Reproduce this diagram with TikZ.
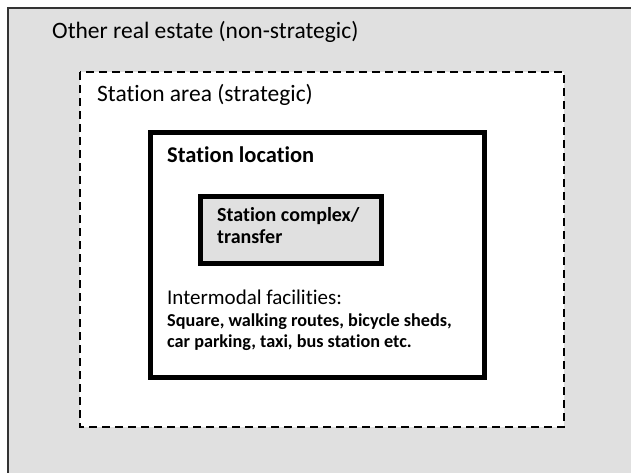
\documentclass[tikz,border=0pt]{standalone}
\usepackage{fontspec}
\setmainfont{Carlito}[Ligatures={NoCommon}]

\begin{document}
\begin{tikzpicture}[x=1pt, y=-1pt, label/.style={anchor=base west, inner sep=0pt, align=left}, zone/.style={line width=5pt}]
\useasboundingbox (0,0) rectangle (631,473);
% outer area, cut off at the right and bottom
\fill[white] (0,0) rectangle (631,473);
\draw[fill=black!12, draw=black!80, line width=1.5pt] (8,8) rectangle (640,490);
\node[label, font=\fontsize{23.5}{28}\selectfont] (other) at (52,39) {Other real estate (non-strategic)};
% strategic area
\draw[fill=white, line width=2pt, dash pattern=on 8pt off 5pt] (80,72) rectangle (564,427);
\node[label, font=\fontsize{23.5}{28}\selectfont] (area) at (97,102) {Station area (strategic)};
% station location
\draw[zone, fill=white] (150,133) rectangle (484,377);
\node[label, font=\fontsize{22.5}{27}\selectfont\bfseries] (location) at (167,163) {Station location};
\draw[zone, fill=black!12] (200,196) rectangle (381,263);
% multi-line labels sit on the baseline of their last line
\node[label, font=\fontsize{20}{22}\selectfont\bfseries] (complex) at (217,243) {Station complex/\\transfer};
\node[label, font=\fontsize{21}{25}\selectfont] (intermodal) at (167,304) {Intermodal facilities:};
\node[label, font=\fontsize{18.2}{20.7}\selectfont\bfseries] (facilities) at (167,347) {Square, walking routes, bicycle sheds,\\car parking, taxi, bus station etc.};
\end{tikzpicture}
\end{document}
